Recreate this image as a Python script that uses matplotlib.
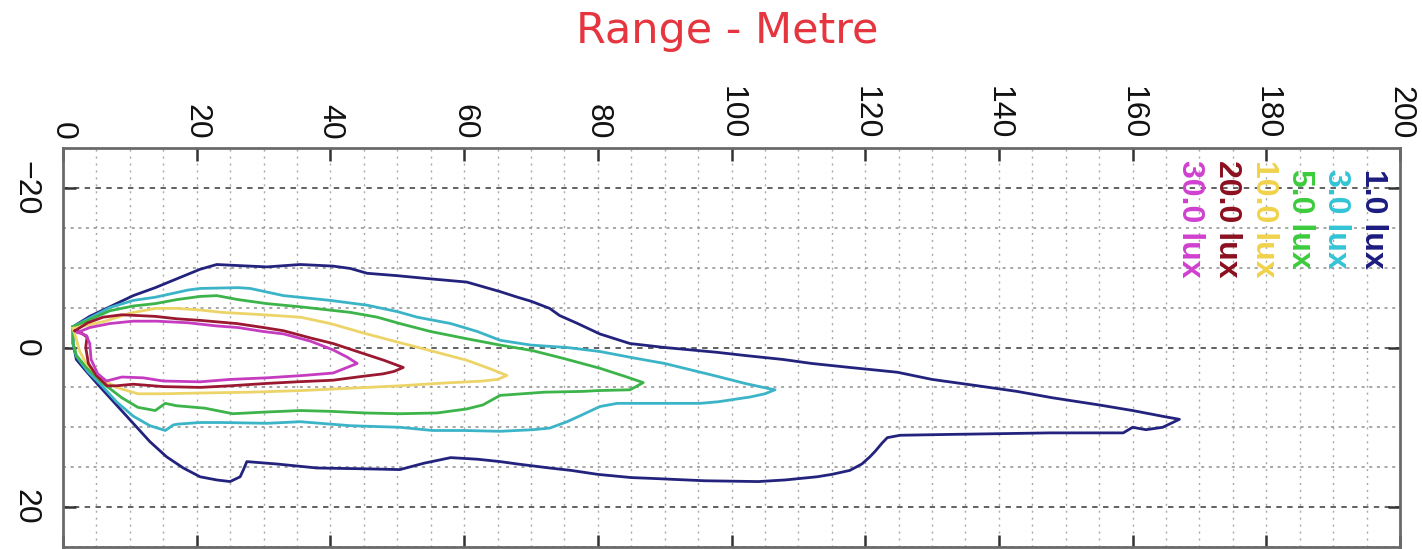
import matplotlib
matplotlib.use("Agg")
import matplotlib.pyplot as plt
from matplotlib.ticker import MultipleLocator

# ---------------- data ----------------
levels = ["1.0 lux", "3.0 lux", "5.0 lux", "10.0 lux", "20.0 lux", "30.0 lux"]
line_colors = ["#23237e", "#3bb4c8", "#3cb44a", "#ecd468", "#9a1830", "#c63cc0"]
text_colors = ["#1c1c80", "#33c4d6", "#3ccc3c", "#f0d24a", "#8b1020", "#d040d0"]

x_ticks = [0, 20, 40, 60, 80, 100, 120, 140, 160, 180, 200]
y_ticks = [-20, 0, 20]

# 1.0 lux contour (closed loop)
lux1_x = [1.5, 4, 7, 10.5, 13.8, 17, 20.5, 23, 25.4, 30.5, 35.5, 38, 40.4, 43, 45.5, 50, 55,
          60.4, 65.4, 68, 70, 72.8, 74.3, 77, 80.3, 84.8, 90, 97.8, 102, 107.7, 112, 117.7,
          124.8, 130, 136, 142.7, 148, 155, 160, 165, 167,
          164.5, 162, 160, 158.6, 153, 147.6, 140, 132, 125.2, 123.3, 122.5, 121.5, 120.7,
          119.5, 117.7, 115, 112.8, 108, 104, 96, 88, 85, 80, 76, 72.8, 68, 65.4, 62, 58,
          54, 50.4, 45, 38, 32, 27.5, 27, 26.5, 25, 23, 20.5, 18, 15.5, 13, 10.5, 8, 5.5,
          3.5, 2, 1.5, 1.5]
lux1_y = [-2.6, -3.9, -5.1, -6.5, -7.5, -8.6, -9.8, -10.4, -10.3, -10.1, -10.4, -10.3, -10.2,
          -9.9, -9.3, -9.0, -8.6, -8.2, -7.0, -6.3, -5.8, -4.9, -4.0, -3.0, -1.7, -0.5, 0.0,
          0.6, 1.0, 1.5, 2.0, 2.5, 3.1, 4.0, 4.7, 5.5, 6.3, 7.2, 7.9, 8.7, 9.0,
          10.0, 10.3, 10.0, 10.7, 10.7, 10.7, 10.8, 10.9, 11.0, 11.3, 12.0, 13.0, 13.7,
          14.6, 15.4, 15.9, 16.2, 16.6, 16.8, 16.7, 16.4, 16.3, 15.9, 15.4, 15.1, 14.6, 14.3,
          14.0, 13.8, 14.5, 15.3, 15.2, 15.1, 14.6, 14.3, 15.3, 16.2, 16.8, 16.6, 16.2, 15.1,
          13.7, 11.8, 9.5, 7.2, 4.9, 3.0, 1.5, -0.5, -2.6]

# 3.0 lux contour
lux3_x = [1.5, 4, 7, 10.5, 13.8, 18.7, 20.5, 26.2, 28, 33, 40, 45.5, 50, 53, 58, 62, 65.4,
          70, 75.4, 80.3, 85.3, 90, 97.8, 102, 105.3, 106.5,
          105, 102.8, 98, 95.3, 90, 82.9, 80.3, 77.5, 75.4, 72.8, 70.3, 65.4, 60, 55.3,
          50.4, 43, 35.5, 30.5, 23.8, 20.5, 17.2, 16.5, 15.3, 13, 10.5, 8, 5.5, 3.7, 2,
          1.5, 1.5]
lux3_y = [-2.6, -3.7, -5.0, -5.9, -6.3, -7.2, -7.4, -7.5, -7.4, -6.5, -5.9, -5.3, -4.5, -3.8,
          -3.0, -2.0, -0.9, -0.3, 0.0, 0.5, 1.3, 2.0, 3.6, 4.5, 5.1, 5.3,
          5.8, 6.2, 6.8, 7.0, 7.0, 7.0, 7.4, 8.5, 9.3, 10.1, 10.3, 10.5, 10.4, 10.4,
          10.0, 9.8, 9.3, 9.5, 9.4, 9.4, 9.6, 9.7, 10.4, 9.8, 8.6, 6.8, 4.5, 3.0, 1.1,
          -0.5, -2.6]

# 5.0 lux contour
lux5_x = [1.5, 4, 7, 10.5, 13.8, 17, 20.5, 23, 26.2, 30.5, 35.5, 43, 47, 50.4, 55, 60.4,
          65.4, 70.3, 75, 80.3, 84, 86.8,
          85.5, 84.8, 80, 77.8, 72, 65.4, 62.8, 60.4, 56, 50.4, 45, 40, 35.5, 30, 25.4,
          21.2, 17, 15.3, 13.8, 11.2, 8.8, 6, 3.5, 2, 1.5, 1.5]
lux5_y = [-2.6, -3.5, -4.6, -5.2, -5.5, -6.0, -6.4, -6.5, -6.0, -5.5, -5.1, -4.4, -3.8, -3.0,
          -2.0, -1.1, -0.3, 0.4, 1.4, 2.6, 3.6, 4.4,
          5.0, 5.3, 5.4, 5.5, 5.6, 6.0, 7.2, 7.7, 8.2, 8.3, 8.2, 8.0, 7.9, 8.1, 8.3,
          7.6, 7.3, 7.0, 7.9, 7.5, 6.3, 4.5, 2.5, 1.0, -0.5, -2.6]

# 10.0 lux contour
lux10_x = [1.5, 3.7, 6.3, 10, 13.8, 17, 20.5, 23.8, 30, 35.5, 40, 45, 50.4, 55, 60.4, 64,
           66.4,
           65, 62.8, 56, 50.4, 43, 35.5, 28, 20.5, 15, 11.2, 8, 5.5, 3.5, 2.5, 2, 1.5]
lux10_y = [-2.4, -2.8, -3.3, -4.3, -4.9, -4.9, -4.7, -4.4, -4.1, -3.8, -3.0, -1.8, -0.6, 0.4,
           1.6, 2.7, 3.5,
           4.0, 4.2, 4.5, 4.8, 5.1, 5.4, 5.6, 5.7, 5.8, 5.8, 5.0, 3.8, 2.0, 0.5, -1.0, -2.4]

# 20.0 lux contour
lux20_x = [1.8, 3.7, 6, 8.8, 13.8, 17, 20.5, 26, 30, 33, 37, 40.4, 44, 48, 50.9,
           49.5, 47.9, 44, 40.4, 35, 30.5, 25, 20.5, 15, 10.5, 8, 6.6, 5, 3.8, 3.4, 3.6,
           2.6, 1.8]
lux20_y = [-2.1, -3.1, -3.8, -4.1, -3.9, -3.6, -3.4, -3.0, -2.5, -2.1, -1.2, -0.5, 0.5, 1.6,
           2.5,
           3.0, 3.3, 3.7, 4.1, 4.3, 4.5, 4.8, 5.0, 4.9, 4.6, 4.8, 4.8, 3.5, 2.0, 0.0, -1.3,
           -1.9, -2.1]

# 30.0 lux contour
lux30_x = [2.2, 4, 7, 10.5, 14, 18.7, 23, 26.2, 30, 33, 37, 40.4, 42.5, 44,
           42.5, 40.4, 36, 30.5, 25, 20.5, 15, 12, 8.8, 6.5, 5.2, 4.2, 4.0, 3.5, 2.2]
lux30_y = [-1.9, -2.5, -3.0, -3.3, -3.3, -3.1, -2.7, -2.5, -2.0, -1.7, -0.8, 0.3, 1.2, 2.0,
           2.5, 3.2, 3.5, 3.8, 4.0, 4.3, 4.2, 3.8, 3.7, 4.2, 3.3, 1.5, -0.5, -1.5, -1.9]

series_x = [lux1_x, lux3_x, lux5_x, lux10_x, lux20_x, lux30_x]
series_y = [lux1_y, lux3_y, lux5_y, lux10_y, lux20_y, lux30_y]

# ---------------- figure ----------------
W, H = 1422, 549
fig = plt.figure(figsize=(W / 100, H / 100), dpi=100)
ax = fig.add_axes([63 / W, 2 / H, 1337 / W, 399 / H])

ax.set_xlim(0, 200)
ax.set_ylim(25, -25)

# grid
ax.xaxis.set_major_locator(MultipleLocator(20))
ax.xaxis.set_minor_locator(MultipleLocator(5))
ax.yaxis.set_major_locator(MultipleLocator(20))
ax.yaxis.set_minor_locator(MultipleLocator(5))
ax.set_xticks(x_ticks)
ax.set_yticks(y_ticks)
ax.xaxis.grid(True, which="both", ls=(0, (1.5, 3.5)), color="#a8a8a8", lw=1.0)
ax.yaxis.grid(True, which="minor", ls=(0, (2, 3)), color="#909090", lw=1.1)
ax.yaxis.grid(True, which="major", ls=(0, (3, 3)), color="#555555", lw=1.3)
ax.set_axisbelow(True)

for xs, ys, c in zip(series_x, series_y, line_colors):
    ax.plot(xs, ys, color=c, lw=2.0, solid_joinstyle="round")

# ticks
ax.xaxis.tick_top()
ax.tick_params(axis="x", which="major", direction="in", length=9, width=1.8,
               top=True, bottom=True, labeltop=True, labelbottom=False,
               labelsize=23, pad=6, colors="#333333", labelcolor="#111111")
ax.tick_params(axis="y", which="major", direction="in", length=9, width=1.8,
               left=True, right=True, labelsize=23, pad=16,
               colors="#333333", labelcolor="#111111")
ax.tick_params(which="minor", length=0)
for lab in ax.get_xticklabels():
    lab.set_rotation(-90)
    lab.set_fontfamily("Liberation Sans")
for lab in ax.get_yticklabels():
    lab.set_rotation(-90)
    lab.set_fontfamily("Liberation Sans")
    lab.set_va("center")

for sp in ax.spines.values():
    sp.set_color("#6a6a6a")
    sp.set_linewidth(2.0)

# legend as coloured rotated text
x0 = (1373 - 63) / 1337
dx = 36.5 / 1337
for i, (lab, c) in enumerate(zip(levels, text_colors)):
    ax.text(x0 - i * dx, 0.822, lab, transform=ax.transAxes, rotation=-90,
            ha="center", va="center", color=c, fontsize=23, fontweight="bold",
            family="Liberation Sans")

# title
fig.text(727 / W, 1 - 31 / H, "Range - Metre", ha="center", va="center",
         color="#e5353f", fontsize=31, family="DejaVu Sans")

fig.savefig("out.png", dpi=100)
